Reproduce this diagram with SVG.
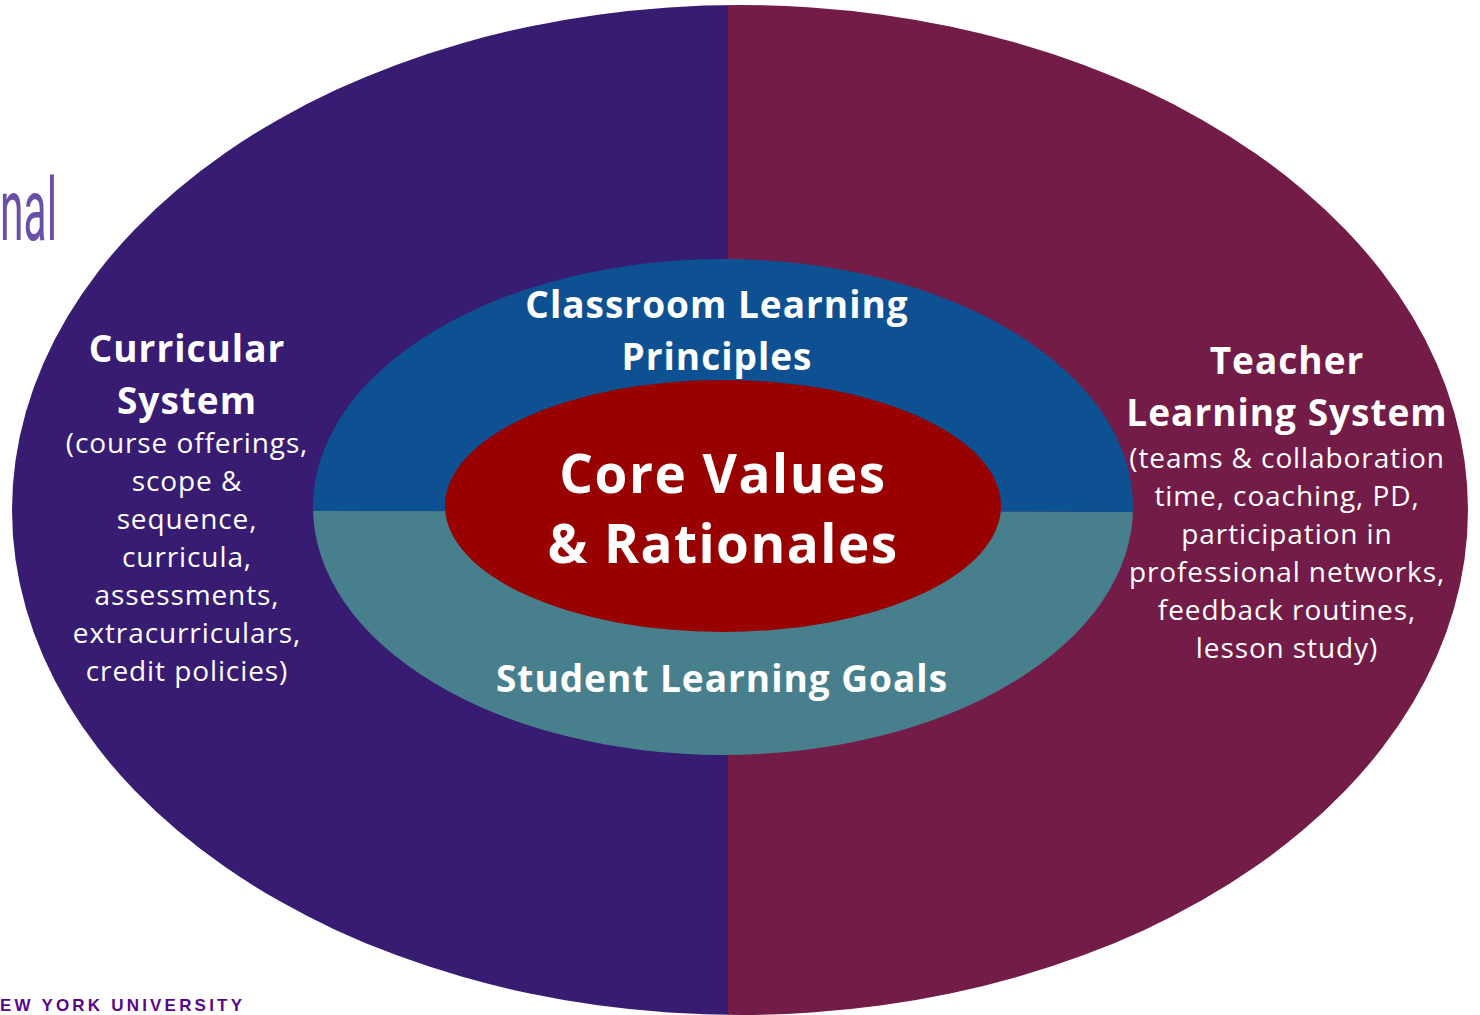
<svg xmlns="http://www.w3.org/2000/svg" width="1480" height="1015" viewBox="0 0 1480 1015">
<style>
.t{font-family:"Open Sans","Noto Sans","Liberation Sans",sans-serif;fill:#fff;text-anchor:middle}
.h{font-weight:700;font-size:37px;letter-spacing:1px}
.b{font-size:28px;letter-spacing:0.9px}
.c{font-weight:700;font-size:53px;letter-spacing:1.5px}
</style>
<defs>
<clipPath id="outer"><ellipse cx="740" cy="510" rx="728" ry="505"/></clipPath>
<clipPath id="mid"><ellipse cx="723" cy="507" rx="410" ry="248"/></clipPath>
</defs>
<rect width="1480" height="1015" fill="#fff"/>
<text x="0" y="240" font-family="Roboto,'Liberation Sans',sans-serif" font-size="88" fill="#6A4FA8" textLength="57" lengthAdjust="spacingAndGlyphs">nal</text>
<text x="0" y="1011" font-family="'Liberation Sans',sans-serif" font-weight="700" font-size="17" fill="#57068C" textLength="242" lengthAdjust="spacing">EW YORK UNIVERSITY</text>
<g id="outer-ellipse" clip-path="url(#outer)">
<rect x="0" y="0" width="729" height="1015" fill="#371C72"/>
<rect x="728" y="0" width="760" height="1015" fill="#731C47"/>
</g>
<g id="middle-ellipse" clip-path="url(#mid)">
<polygon points="300,250 1140,250 1140,512 300,511" fill="#0D5192"/>
<polygon points="300,511 1140,512 1140,760 300,760" fill="#47808C"/>
</g>
<g id="inner-ellipse"><ellipse cx="723" cy="506" rx="278" ry="126" fill="#990000"/></g>
<g id="curricular">
<text class="t h" x="187" y="362">Curricular</text>
<text class="t h" x="187" y="414">System</text>
<text class="t b" x="187" y="453">(course offerings,</text>
<text class="t b" x="187" y="491">scope &amp;</text>
<text class="t b" x="187" y="529">sequence,</text>
<text class="t b" x="187" y="567">curricula,</text>
<text class="t b" x="187" y="605">assessments,</text>
<text class="t b" x="187" y="643">extracurriculars,</text>
<text class="t b" x="187" y="681">credit policies)</text>
</g>
<g id="teacher">
<text class="t h" x="1287" y="374">Teacher</text>
<text class="t h" x="1287" y="426">Learning System</text>
<text class="t b" x="1287" y="468">(teams &amp; collaboration</text>
<text class="t b" x="1287" y="506">time, coaching, PD,</text>
<text class="t b" x="1287" y="544">participation in</text>
<text class="t b" x="1287" y="582">professional networks,</text>
<text class="t b" x="1287" y="620">feedback routines,</text>
<text class="t b" x="1287" y="658">lesson study)</text>
</g>
<g id="classroom">
<text class="t h" x="717" y="318">Classroom Learning</text>
<text class="t h" x="717" y="370">Principles</text>
</g>
<g id="core">
<text class="t c" x="723" y="493">Core Values</text>
<text class="t c" x="723" y="563">&amp; Rationales</text>
</g>
<g id="student">
<text class="t h" x="722" y="692">Student Learning Goals</text>
</g>
<g id="connectors"/>
</svg>
